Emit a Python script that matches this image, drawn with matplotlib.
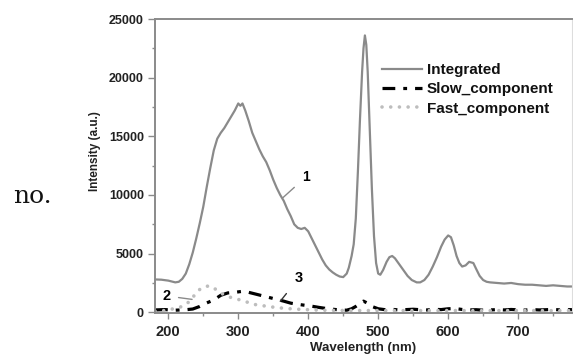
import matplotlib

matplotlib.use("Agg")
import matplotlib.pyplot as plt
from matplotlib.ticker import MultipleLocator

plt.rcParams["font.family"] = ["Liberation Sans", "DejaVu Sans"]
plt.rcParams["font.weight"] = "bold"

# ---- data ----
wl_int = [181, 190, 200, 210, 215, 220, 225, 230, 235, 240, 245, 250, 255, 260, 265,
          270, 275, 280, 285, 290, 295, 300, 303, 306, 310, 315, 320, 325, 330, 335,
          340, 345, 350, 355, 360, 365, 370, 375, 380, 385, 390, 395, 400, 405, 410,
          415, 420, 425, 430, 435, 440, 445, 450, 455, 458, 462, 465, 468, 471, 474,
          477, 479, 481, 483, 485, 488, 491, 494, 497, 500, 503, 507, 512, 516, 520,
          524, 530, 536, 542, 548, 555, 560, 566, 572, 578, 584, 590, 595, 600, 604,
          608, 612, 616, 620, 625, 630, 636, 640, 645, 650, 655, 660, 670, 680, 690,
          700, 710, 720, 730, 740, 750, 760, 770, 780]
integrated = [2800, 2780, 2700, 2550, 2600, 2850, 3300, 4100, 5100, 6300, 7600, 9000,
              10700, 12300, 13800, 14800, 15300, 15700, 16200, 16700, 17200, 17800,
              17600, 17800, 17200, 16300, 15300, 14600, 13900, 13300, 12800, 12100,
              11300, 10600, 10000, 9500, 8800, 8200, 7500, 7200, 7100, 7200, 6900,
              6300, 5700, 5100, 4500, 4000, 3650, 3400, 3200, 3050, 3000, 3300, 3800,
              4800, 5800, 8000, 12000, 16500, 20500, 22500, 23600, 22800, 20500,
              15500, 10500, 6500, 4200, 3300, 3200, 3600, 4300, 4700, 4800, 4600,
              4100, 3600, 3100, 2750, 2550, 2550, 2750, 3200, 3900, 4700, 5600, 6200,
              6550, 6400, 5700, 4800, 4200, 3900, 4000, 4300, 4200, 3700, 3100, 2750,
              2600, 2550, 2500, 2450, 2500, 2400, 2350, 2350, 2300, 2250, 2300, 2250,
              2200, 2200]

wl_slow = [181, 195, 210, 225, 235, 245, 255, 265, 275, 285, 295, 305, 315, 325, 335,
           345, 355, 365, 375, 385, 395, 405, 415, 425, 435, 445, 455, 462, 468, 474,
           479, 484, 490, 500, 510, 520, 530, 540, 550, 560, 570, 580, 590, 600, 610,
           620, 630, 640, 650, 660, 670, 680, 690, 700, 710, 720, 730, 740, 750, 760,
           770, 780]
slow = [200, 230, 180, 220, 280, 500, 800, 1050, 1450, 1650, 1700, 1780, 1700, 1550,
        1400, 1250, 1100, 950, 780, 680, 600, 520, 420, 330, 260, 200, 180, 300, 500,
        750, 950, 800, 520, 300, 220, 250, 200, 230, 260, 220, 200, 250, 230, 300, 320,
        240, 200, 220, 180, 200, 230, 200, 240, 210, 190, 230, 200, 220, 250, 200, 230,
        220]

wl_fast = [181, 195, 210, 220, 230, 238, 245, 252, 260, 268, 278, 290, 300, 312, 325,
           340, 355, 370, 385, 400, 420, 440, 460, 500, 550, 600, 650, 700, 750, 780]
fast = [100, 150, 330, 500, 900, 1500, 1950, 2200, 2250, 1950, 1550, 1250, 1100, 880,
        650, 520, 400, 320, 260, 220, 180, 160, 150, 150, 140, 150, 140, 150, 140, 150]

x_ticks = [200, 300, 400, 500, 600, 700]
y_ticks = [0, 5000, 10000, 15000, 20000, 25000]

# ---- figure ----
fig = plt.figure(figsize=(5.73, 3.55), dpi=100)
ax = fig.add_axes([155 / 573, 1 - 313 / 355, 417 / 573, 294 / 355])

GRAY = "#8a8a8a"
ax.plot(wl_int, integrated, color=GRAY, lw=1.6, label="Integrated")
ax.plot(wl_slow, slow, color="black", lw=2.3, dashes=[4, 2.5, 1.2, 2.5],
        label="Slow_component")
ax.plot(wl_fast, fast, color="#bdbdbd", lw=2.6, dashes=[0.01, 2.4],
        dash_capstyle="round", label="Fast_component")

ax.set_xlim(181, 777)
ax.set_ylim(-60, 25000)
ax.set_xticks(x_ticks)
ax.set_yticks(y_ticks)
ax.xaxis.set_minor_locator(MultipleLocator(50))
ax.yaxis.set_minor_locator(MultipleLocator(2500))
ax.tick_params(axis="x", which="major", labelsize=10.5, length=4, width=1,
               color=GRAY, pad=5)
ax.tick_params(axis="y", which="major", labelsize=9, length=5, width=1,
               color=GRAY, pad=3)
ax.tick_params(which="minor", length=2, width=1, color=GRAY)
for lab in ax.get_xticklabels() + ax.get_yticklabels():
    lab.set_fontweight("bold")
    lab.set_color("#222222")

for side in ["left", "bottom", "top"]:
    ax.spines[side].set_color(GRAY)
    ax.spines[side].set_linewidth(1.4)
ax.spines["right"].set_color("#dddddd")
ax.spines["right"].set_linewidth(0.8)

ax.set_xlabel("Wavelength (nm)", fontsize=9.5, fontweight="bold", color="#222222",
              labelpad=2)
ax.set_ylabel("Intensity (a.u.)", fontsize=8.5, fontweight="bold", color="#222222")
ax.yaxis.set_label_coords(-0.13, 0.55)

leg = ax.legend(loc="upper left", bbox_to_anchor=(382 / 573, 1 - 63 / 355),
                bbox_transform=fig.transFigure, frameon=False, fontsize=11,
                handlelength=2.6, handletextpad=0.35, labelspacing=0.35,
                borderpad=0, borderaxespad=0)
for t in leg.get_texts():
    t.set_fontweight("bold")
    t.set_color("#111111")

# curve labels
ax.annotate("1", xy=(364, 9780), xytext=(397, 11560), fontsize=10,
            fontweight="bold", ha="center", va="center",
            arrowprops=dict(arrowstyle="-", color=GRAY, lw=1, shrinkA=5, shrinkB=0))
ax.annotate("2", xy=(234, 1100), xytext=(197, 1400), fontsize=10.5,
            fontweight="bold", ha="center", va="center",
            arrowprops=dict(arrowstyle="-", color=GRAY, lw=1, shrinkA=4, shrinkB=0))
ax.annotate("3", xy=(360, 935), xytext=(386, 2890), fontsize=10.5,
            fontweight="bold", ha="center", va="center",
            arrowprops=dict(arrowstyle="-", color="#333333", lw=1, shrinkA=6, shrinkB=0))

fig.text(13 / 573, 1 - 196 / 355, "no.", family="DejaVu Serif", fontsize=18,
         fontweight="normal", ha="left", va="center", color="#111111")

fig.savefig("out.png", dpi=100)
